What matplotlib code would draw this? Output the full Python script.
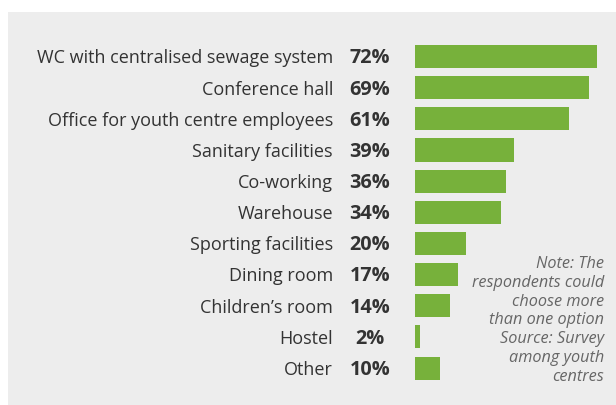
import matplotlib
matplotlib.use("Agg")
import matplotlib.pyplot as plt
from matplotlib.patches import Rectangle

categories = [
    "WC with centralised sewage system",
    "Conference hall",
    "Office for youth centre employees",
    "Sanitary facilities",
    "Co-working",
    "Warehouse",
    "Sporting facilities",
    "Dining room",
    "Children\u2019s room",
    "Hostel",
    "Other",
]
values = [72, 69, 61, 39, 36, 34, 20, 17, 14, 2, 10]
note = ("Note: The\nrespondents could\nchoose more\nthan one option\n"
        "Source: Survey\namong youth\ncentres")

W, H = 616, 405
plt.rcParams["font.family"] = ["Open Sans", "DejaVu Sans"]

fig = plt.figure(figsize=(W / 100, H / 100), dpi=100)
fig.patch.set_facecolor("white")

# grey panel behind the chart
fig.patches.append(Rectangle((8 / W, 0), 1 - 8 / W, (H - 12) / H,
                             transform=fig.transFigure, facecolor="#ededed",
                             edgecolor="none", zorder=-10))

x0, x1 = 415, 597
top, bottom = 41, 383.6
ax = fig.add_axes([x0 / W, 1 - bottom / H, (x1 - x0) / W, (bottom - top) / H])
ax.set_facecolor("none")
pos = list(range(len(categories)))
ax.barh(pos, values, height=0.74, color="#77b13b")
ax.set_xlim(0, max(values))
ax.set_ylim(len(categories) - 0.5, -0.5)
ax.axis("off")

tr = ax.get_yaxis_transform()
scale = (x1 - x0)
for p, c, v in zip(pos, categories, values):
    ax.text((333 - x0) / scale, p + 0.06, c, transform=tr, ha="right",
            va="center", fontsize=13, color="#333333")
    ax.text((370 - x0) / scale, p + 0.06, f"{v}%", transform=tr, ha="center",
            va="center", fontsize=14.3, fontweight="bold", color="#333333")

fig.text(604 / W, 1 - 256 / H, note, ha="right", va="top", fontsize=11.7,
         style="italic", color="#666666", linespacing=1.23)

fig.savefig("out.png", dpi=100, facecolor=fig.get_facecolor())
